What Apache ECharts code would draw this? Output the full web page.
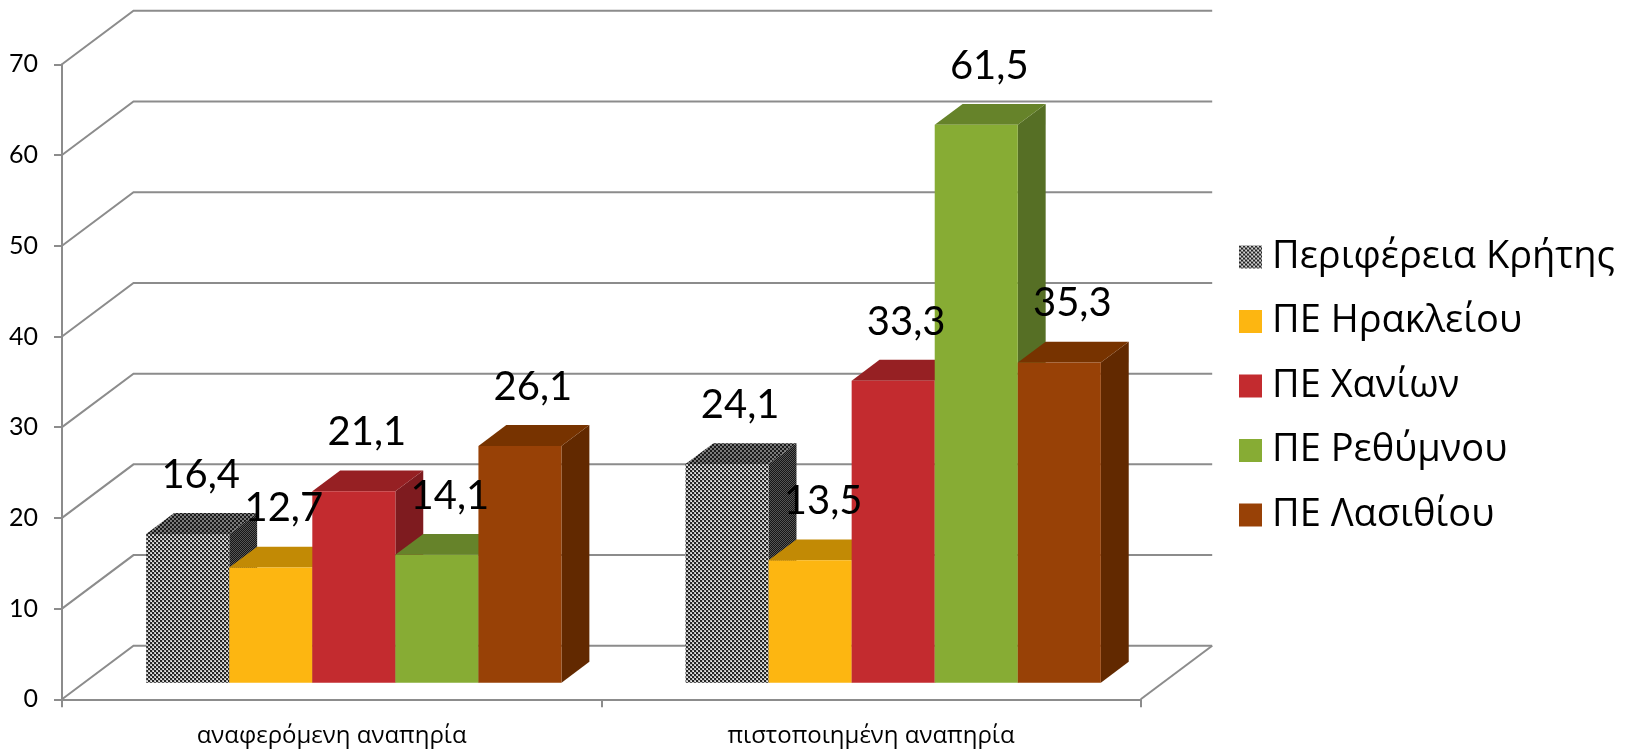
<!DOCTYPE html>
<html><head><meta charset="utf-8">
<script src="https://cdn.jsdelivr.net/npm/echarts@6/dist/echarts.min.js"></script>
<style>html,body{margin:0;padding:0;background:#fff}#c{width:1633px;height:751px}</style>
</head><body><div id="c"></div>
<script>
// ---- data ----
const categories = ['αναφερόμενη αναπηρία', 'πιστοποιημένη αναπηρία'];
const seriesNames = ['Περιφέρεια Κρήτης', 'ΠΕ Ηρακλείου', 'ΠΕ Χανίων', 'ΠΕ Ρεθύμνου', 'ΠΕ Λασιθίου'];
const kritis = [16.4, 24.1];
const irakleiou = [12.7, 13.5];
const chanion = [21.1, 33.3];
const rethymnou = [14.1, 61.5];
const lasithiou = [26.1, 35.3];
const yTicks = [0, 10, 20, 30, 40, 50, 60, 70];

const seriesValues = [kritis, irakleiou, chanion, rethymnou, lasithiou];

// ---- style / geometry ----
const DX = 71.5, DY = -53.5;     // depth vector of the 3D box
const T0 = 0.31, T1 = 0.70;      // bar depth range
const BAR_FRAC = 0.154, GROUP_FRAC = 0.77;
const GRID_COLOR = '#8c8c8c';
const LEGEND_FONT = 38;
const LABEL_FONT = 40;

function makePattern(bg, fg, diag) {
  const c = document.createElement('canvas');
  c.width = 4; c.height = 4;
  const g = c.getContext('2d');
  g.fillStyle = bg; g.fillRect(0, 0, 4, 4);
  g.fillStyle = fg;
  if (diag) {
    for (let i = 0; i < 4; i++) g.fillRect(i, (3 - i + 4) % 4, 1, 1);
    for (let i = 0; i < 4; i++) g.fillRect(i, (1 - i + 4) % 4, 1, 1);
  } else {
    g.fillRect(0, 0, 2, 2); g.fillRect(2, 2, 2, 2);
    g.fillStyle = bg === '#bdbdbd' ? '#eeeeee' : bg;
    g.fillRect(1, 3, 1, 1); g.fillRect(3, 1, 1, 1);
  }
  return { image: c, repeat: 'repeat' };
}
const grayFront = makePattern('#bdbdbd', '#262626', false);
const grayTop = makePattern('#7a7a7a', '#1a1a1a', false);
const graySide = makePattern('#555555', '#161616', true);

const faces = [
  { front: grayFront, top: grayTop, side: graySide },
  { front: '#FDB611', top: '#C28A05', side: '#A87604' },
  { front: '#C32B2F', top: '#962023', side: '#7E1B1F' },
  { front: '#87AC34', top: '#66832A', side: '#566F25' },
  { front: '#984106', top: '#773300', side: '#622900' }
];

function barGeom(api, ci, si, v) {
  const base = api.coord([ci, 0]);
  const top = api.coord([ci, v]);
  const band = api.size([1, 0])[0];
  const bw = band * BAR_FRAC;
  const x0 = base[0] - band * GROUP_FRAC / 2 + si * bw + DX * T0;
  const yb = base[1] + DY * T0;
  const yt = top[1] + DY * T0;
  return { x0, x1: x0 + bw, yb, yt, bw };
}

function makeBarRender(si) {
  return function (params, api) {
    const ci = api.value(0), v = api.value(1);
    const g = barGeom(api, ci, si, v);
    const ddx = DX * (T1 - T0), ddy = DY * (T1 - T0);
    const f = faces[si];
    return {
      type: 'group', children: [
        { type: 'polygon', shape: { points: [[g.x1, g.yb], [g.x1 + ddx, g.yb + ddy], [g.x1 + ddx, g.yt + ddy], [g.x1, g.yt]] }, style: { fill: f.side } },
        { type: 'polygon', shape: { points: [[g.x0, g.yt], [g.x1, g.yt], [g.x1 + ddx, g.yt + ddy], [g.x0 + ddx, g.yt + ddy]] }, style: { fill: f.top } },
        { type: 'rect', shape: { x: g.x0, y: g.yt, width: g.bw, height: g.yb - g.yt }, style: { fill: f.front } }
      ]
    };
  };
}

const barSeries = seriesNames.map((name, si) => ({
  type: 'custom',
  name: name,
  z: 2,
  itemStyle: { color: si === 0 ? makePattern('#bdbdbd', '#262626', false) : faces[si].front },
  renderItem: makeBarRender(si),
  data: seriesValues[si].map((v, ci) => [ci, v])
}));

const gridSeries = {
  type: 'custom',
  name: 'grid3d',
  z: 1,
  silent: true,
  renderItem: function (params, api) {
    const v = api.value(1);
    const y = api.coord([0, v])[1];
    const cs = params.coordSys;
    const xl = cs.x, xr = cs.x + cs.width;
    const children = [{
      type: 'polyline',
      shape: { points: [[xl, y], [xl + DX, y + DY], [xr + DX, y + DY]] },
      style: { stroke: GRID_COLOR, lineWidth: 2, fill: null }
    }];
    if (v === 0) {
      children.push({ type: 'line', shape: { x1: xr, y1: y, x2: xr + DX, y2: y + DY }, style: { stroke: GRID_COLOR, lineWidth: 2 } });
    }
    return { type: 'group', children };
  },
  data: yTicks.map(v => [0, v])
};

const labelData = [];
seriesValues.forEach((arr, si) => arr.forEach((v, ci) => labelData.push([ci, v, si])));
const labelSeries = {
  type: 'custom',
  name: 'labels',
  z: 10,
  silent: true,
  renderItem: function (params, api) {
    const ci = api.value(0), v = api.value(1), si = api.value(2);
    const g = barGeom(api, ci, si, v);
    return {
      type: 'text',
      style: {
        text: String(v).replace('.', ','),
        x: (g.x0 + g.x1) / 2 + 13,
        y: g.yt - 47 - 0.3 * LABEL_FONT,
        align: 'center',
        verticalAlign: 'middle',
        font: LABEL_FONT + 'px Lato',
        fill: '#000'
      }
    };
  },
  data: labelData
};

const chart = echarts.init(document.getElementById('c'), null, { renderer: 'canvas' });
chart.setOption({
  animation: false,
  backgroundColor: '#fff',
  grid: { left: 62, right: 492.3, top: 64.3, bottom: 51.7, containLabel: false, outerBoundsMode: 'none' },
  legend: {
    orient: 'vertical', left: 1234, top: 252 - LEGEND_FONT / 2,
    itemWidth: 23, itemHeight: 23, itemGap: 64.5 - LEGEND_FONT, icon: 'rect',
    selectedMode: false,
    data: seriesNames.map((n, i) => ({ name: n, itemStyle: { color: i === 0 ? makePattern('#bdbdbd', '#262626', false) : faces[i].front } })),
    textStyle: { fontFamily: 'Open Sans', fontSize: LEGEND_FONT, color: '#000', padding: [0, 0, 0, 5] }
  },
  xAxis: {
    type: 'category', data: categories,
    axisLine: { lineStyle: { color: GRID_COLOR, width: 2 } },
    axisTick: { show: true, length: 8, lineStyle: { color: GRID_COLOR, width: 2 } },
    axisLabel: { fontFamily: 'Open Sans', fontSize: 24, lineHeight: 24, color: '#000', margin: 25 },
    splitLine: { show: false }
  },
  yAxis: {
    type: 'value', min: 0, max: 70, interval: 10,
    axisLine: { show: true, lineStyle: { color: GRID_COLOR, width: 2 } },
    axisTick: { show: true, length: 8, lineStyle: { color: GRID_COLOR, width: 2 } },
    axisLabel: { fontFamily: 'Lato', fontSize: 25, color: '#000', margin: 24 },
    splitLine: { show: false }
  },
  series: [gridSeries].concat(barSeries, [labelSeries])
});
</script>
</body></html>
